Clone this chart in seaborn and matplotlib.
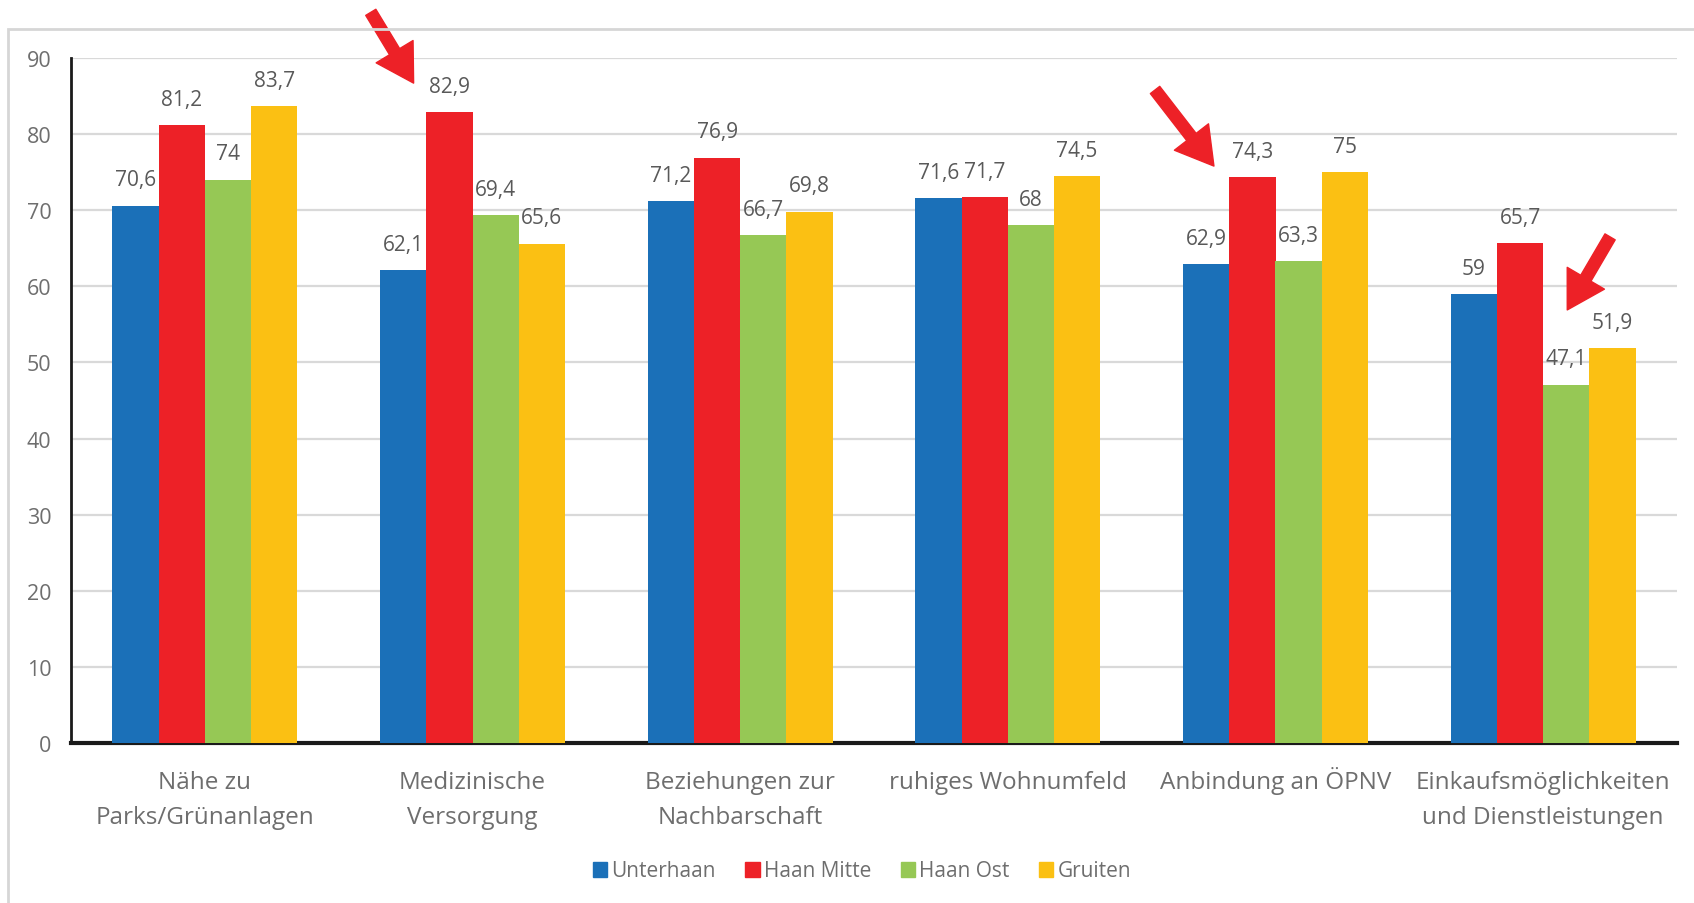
import pandas as pd
import seaborn as sns
import matplotlib.pyplot as plt
from matplotlib.patches import Rectangle
from matplotlib.transforms import ScaledTranslation

categories = ["Nähe zu\nParks/Grünanlagen", "Medizinische\nVersorgung",
              "Beziehungen zur\nNachbarschaft", "ruhiges Wohnumfeld",
              "Anbindung an ÖPNV", "Einkaufsmöglichkeiten\nund Dienstleistungen"]
series = ["Unterhaan", "Haan Mitte", "Haan Ost", "Gruiten"]
unterhaan = [70.6, 62.1, 71.2, 71.6, 62.9, 59]
haan_mitte = [81.2, 82.9, 76.9, 71.7, 74.3, 65.7]
haan_ost = [74, 69.4, 66.7, 68, 63.3, 47.1]
gruiten = [83.7, 65.6, 69.8, 74.5, 75, 51.9]
colors = ["#1b70b8", "#ed2127", "#96c855", "#fbc013"]

# arrows: (tail x, tail y, tip x, tip y) in data units
arrows = [(0.62, 96.0, 0.78, 86.7),
          (3.55, 85.8, 3.77, 75.8),
          (5.25, 66.5, 5.09, 56.9)]

rows = []
for name, vals in zip(series, [unterhaan, haan_mitte, haan_ost, gruiten]):
    for cat, v in zip(categories, vals):
        rows.append({"Kategorie": cat, "Bezirk": name, "Wert": v})
df = pd.DataFrame(rows)

sns.set_theme(style="white")
plt.rcParams['font.family'] = ['Open Sans', 'DejaVu Sans']
text_grey = "#6e6e6e"

fig = plt.figure(figsize=(16.94, 9.04), dpi=100)
ax = fig.add_axes([71 / 1694, 1 - 744 / 904, 1606 / 1694, 685 / 904])

sns.barplot(data=df, x="Kategorie", y="Wert", hue="Bezirk", palette=colors,
            width=0.69, gap=0, linewidth=0, saturation=1, ax=ax, zorder=3)

for cont in ax.containers:
    ax.bar_label(cont, labels=[f"{v:g}".replace(".", ",") for v in cont.datavalues],
                 padding=11, fontsize=15, color="#595959")

ax.set_ylim(0, 90)
ax.set_xlim(-0.5, 5.5)
ax.set_yticks(range(0, 91, 10))
ax.yaxis.grid(True, color="#d9d9d9", lw=1.6, zorder=0)
ax.set_axisbelow(True)
ax.set_xlabel("")
ax.set_ylabel("")
ax.tick_params(axis="both", length=0, colors=text_grey, labelsize=15.5)
ax.tick_params(axis="y", pad=14)
ax.set_xticklabels([])
for s in ["top", "right"]:
    ax.spines[s].set_visible(False)
ax.spines["left"].set_color("#1a1a1a")
ax.spines["left"].set_linewidth(2)
ax.spines["bottom"].set_color("#1a1a1a")
ax.spines["bottom"].set_linewidth(3)

# category labels, each line on its own baseline (45 px and 80 px below the axis)
for i, cat in enumerate(categories):
    for k, line in enumerate(cat.split("\n")):
        tr = ax.get_xaxis_transform() + ScaledTranslation(0, -(45 + 35 * k) / 100, fig.dpi_scale_trans)
        ax.text(i, 0, line, transform=tr, ha="center", va="baseline",
                fontsize=17.5, color=text_grey)

ax.legend_.remove()
handles = [Rectangle((0, 0), 1, 1, color=c) for c in colors]
fig.legend(handles, series, loc="center", bbox_to_anchor=(862 / 1694, 1 - 872 / 904),
           ncol=4, frameon=False, fontsize=15, labelcolor=text_grey,
           handlelength=0.7, handleheight=0.7, handletextpad=0.2, columnspacing=1.4)

for x0, y0, x1, y1 in arrows:
    ax.annotate("", xy=(x1, y1), xytext=(x0, y0), annotation_clip=False,
                arrowprops=dict(arrowstyle="simple,head_width=1.35,head_length=1.15,tail_width=0.37",
                                color="#ed2127", mutation_scale=23, shrinkA=0, shrinkB=0))

fig.patches.append(Rectangle((8 / 1694, -0.1), 1.2, 1.1 - 30 / 904, transform=fig.transFigure,
                             fill=False, edgecolor="#d6d6d6", lw=2))

fig.savefig("out.png", dpi=100)
